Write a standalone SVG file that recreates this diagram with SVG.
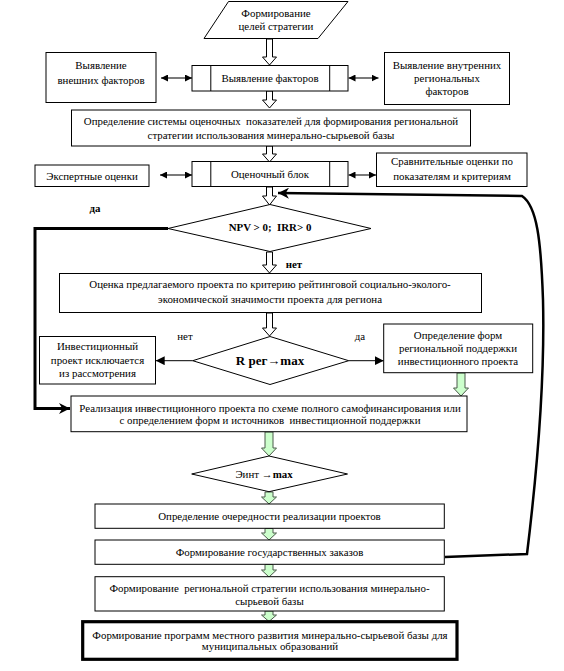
<svg xmlns="http://www.w3.org/2000/svg" width="564" height="671" viewBox="0 0 564 671">
<style>
.box{fill:#fff;stroke:#000;stroke-width:1}
.t{font-family:"Liberation Serif","Times New Roman",serif;font-size:10.9px;fill:#000;text-anchor:middle}
.b{font-weight:bold}
.ha{fill:#fff;stroke:#000;stroke-width:1}
.ga{fill:#ccffcc;stroke:#4a5a4a;stroke-width:1}
.dl{stroke:#333;stroke-width:1.3;fill:none}
.sl{stroke:#000;stroke-width:1;fill:none}
.thick{stroke:#000;stroke-width:3;fill:none}
</style>
<defs>
<marker id="ah" viewBox="0 0 10 10" refX="10" refY="5" markerWidth="7" markerHeight="7" markerUnits="userSpaceOnUse" orient="auto-start-reverse"><path d="M0,0 L10,5 L0,10 z" fill="#000"/></marker>
<marker id="ah2" viewBox="0 0 10 10" refX="10" refY="5" markerWidth="9" markerHeight="9" markerUnits="userSpaceOnUse" orient="auto"><path d="M0,0 L10,5 L0,10 z" fill="#000"/></marker>
<marker id="ah3" viewBox="0 0 10 10" refX="10" refY="5" markerWidth="11" markerHeight="11" markerUnits="userSpaceOnUse" orient="auto"><path d="M0,0 L10,5 L0,10 L3,5 z" fill="#000"/></marker>
</defs>
<rect width="564" height="671" fill="#fff"/>

<g id="connectors">
<polygon class="ha" points="266.5,39 272.5,39 272.5,57 276.5,57 269.5,65 262.5,57 266.5,57"/>
<polygon class="ha" points="266.5,91 272.5,91 272.5,100 276.5,100 269.5,108 262.5,100 266.5,100"/>
<polygon class="ha" points="266.5,146 272.5,146 272.5,154 276.5,154 269.5,162 262.5,154 266.5,154"/>
<polygon class="ha" points="266.5,187 272.5,187 272.5,196 276.5,196 269.5,205 262.5,196 266.5,196"/>
<polygon class="ha" points="266.5,252 272.5,252 272.5,265 276.5,265 269.5,273 262.5,265 266.5,265"/>
<polygon class="ha" points="266.5,313 272.5,313 272.5,328 276.5,328 269.5,336 262.5,328 266.5,328"/>
<line class="dl" x1="161" y1="78" x2="192" y2="78" marker-start="url(#ah)" marker-end="url(#ah)"/>
<line class="dl" x1="348.5" y1="78" x2="378.5" y2="78" marker-start="url(#ah)" marker-end="url(#ah)"/>
<line class="dl" x1="160" y1="175" x2="192" y2="175" marker-start="url(#ah)" marker-end="url(#ah)"/>
<line class="dl" x1="348.5" y1="175" x2="376" y2="175" marker-start="url(#ah)" marker-end="url(#ah)"/>
<path class="thick" d="M168,228.5 L35,228.5 L35,408.5 L70,408.5" marker-end="url(#ah3)"/>
<path d="M445,557 L527,554 C536,480 545,380 543,300 C541,240 537,206 522,196 L278,193" fill="none" stroke="#000" stroke-width="2.5" marker-end="url(#ah3)"/>
<line class="sl" x1="192.7" y1="360.7" x2="155.7" y2="360.7" marker-end="url(#ah2)"/>
<line class="sl" x1="348.7" y1="360.7" x2="383.7" y2="360.7" marker-end="url(#ah2)"/>
<polygon class="ga" points="457,373 465,373 465,388 468.5,388 461,396 453.5,388 457,388"/>
<polygon class="ga" points="265,432 273,432 273,448 276.5,448 269,456 261.5,448 265,448"/>
<polygon class="ga" points="265,492 273,492 273,497 276.5,497 269,504 261.5,497 265,497"/>
<polygon class="ga" points="265,528.5 273,528.5 273,533 276.5,533 269,540 261.5,533 265,533"/>
<polygon class="ga" points="265,564.5 273,564.5 273,570 276.5,570 269,577 261.5,570 265,570"/>
<polygon class="ga" points="265,611 273,611 273,615 276.5,615 269,621.5 261.5,615 265,615"/>
</g>

<g id="n-start">
<polygon class="box" points="228.5,1.5 348,1.5 318,38.5 204,38.5"/>
<text class="t" x="276" y="17">Формирование</text>
<text class="t" x="276" y="30">целей стратегии</text>
</g>
<g id="n-ext">
<rect class="box" x="46" y="52.5" width="110" height="50"/>
<text class="t" x="101" y="68.5">Выявление</text>
<text class="t" x="101" y="83.5">внешних факторов</text>
</g>
<g id="n-factors">
<rect class="box" x="192" y="65.5" width="156" height="25.5"/>
<line class="sl" x1="210.8" y1="65.5" x2="210.8" y2="91"/>
<line class="sl" x1="329.7" y1="65.5" x2="329.7" y2="91"/>
<text class="t" x="270" y="81.5">Выявление факторов</text>
</g>
<g id="n-int">
<rect class="box" x="384.5" y="52.5" width="125" height="52"/>
<text class="t" x="447" y="68.5">Выявление внутренних</text>
<text class="t" x="447" y="81.5">региональных</text>
<text class="t" x="447" y="95">факторов</text>
</g>
<g id="n-system">
<rect class="box" x="71.5" y="110" width="399" height="36"/>
<text class="t" x="271" y="124.5">Определение системы оценочных&#160; показателей для формирования региональной</text>
<text class="t" x="271" y="139">стратегии использования минерально-сырьевой базы</text>
</g>
<g id="n-expert">
<rect class="box" x="35" y="165" width="114" height="21.5"/>
<text class="t" x="92" y="179.5">Экспертные оценки</text>
</g>
<g id="n-evalblock">
<rect class="box" x="192" y="161.5" width="156" height="25"/>
<line class="sl" x1="210.8" y1="161.5" x2="210.8" y2="186.5"/>
<line class="sl" x1="329.7" y1="161.5" x2="329.7" y2="186.5"/>
<text class="t" x="270" y="178">Оценочный блок</text>
</g>
<g id="n-compare">
<rect class="box" x="376.5" y="153" width="150.5" height="33.5"/>
<text class="t" x="452" y="165">Сравнительные оценки по</text>
<text class="t" x="452" y="179.5">показателям и критериям</text>
</g>
<g id="n-npv">
<polygon class="box" points="270,204.5 371,228.5 270,251.5 168,228.5"/>
<text class="t b" x="270" y="231">NPV &gt; 0;&#160; IRR&gt; 0</text>
<text class="t b" x="95" y="211.5">да</text>
<text class="t b" x="294" y="267.5">нет</text>
</g>
<g id="n-rating">
<rect class="box" x="59.5" y="273.5" width="422" height="39"/>
<text class="t" x="270" y="288">Оценка предлагаемого проекта по критерию рейтинговой социально-эколого-</text>
<text class="t" x="270" y="303">экономической значимости проекта для региона</text>
</g>
<g id="n-rreg">
<polygon class="box" points="270,336.5 348.7,360.7 270,384.5 192.7,360.7"/>
<text class="t b" x="270" y="365" style="font-size:13px">R рег→max</text>
<text class="t" x="185" y="339.5">нет</text>
<text class="t" x="360" y="339.5">да</text>
</g>
<g id="n-exclude">
<rect class="box" x="39.5" y="336.5" width="116" height="47.5"/>
<text class="t" x="97.5" y="349.5">Инвестиционный</text>
<text class="t" x="97.5" y="364">проект исключается</text>
<text class="t" x="97.5" y="377">из рассмотрения</text>
</g>
<g id="n-support">
<rect class="box" x="383.7" y="324" width="149" height="48.7"/>
<text class="t" x="458" y="338.5">Определение форм</text>
<text class="t" x="458" y="352">региональной поддержки</text>
<text class="t" x="458" y="364.5">инвестиционного проекта</text>
</g>
<g id="n-realize">
<rect class="box" x="71" y="396" width="396" height="35.7"/>
<text class="t" x="270" y="412">Реализация инвестиционного проекта по схеме полного самофинансирования или</text>
<text class="t" x="270" y="424">с определением форм и источников&#160; инвестиционной поддержки</text>
</g>
<g id="n-eint">
<polygon class="box" points="269,456 347.5,474 269,491.7 191.7,474"/>
<text class="t" x="264" y="478">Эинт →<tspan class="b">max</tspan></text>
</g>
<g id="n-order">
<rect class="box" x="95" y="504" width="349.3" height="24.3"/>
<text class="t" x="269.5" y="519.5">Определение очередности реализации проектов</text>
</g>
<g id="n-orders">
<rect class="box" x="95" y="540" width="349.3" height="24.3"/>
<text class="t" x="269.5" y="556">Формирование государственных заказов</text>
</g>
<g id="n-strategy">
<rect class="box" x="95" y="576.7" width="349.3" height="34.3"/>
<text class="t" x="269.5" y="592">Формирование&#160; региональной стратегии использования минерально-</text>
<text class="t" x="269.5" y="604.5">сырьевой базы</text>
</g>
<g id="n-program">
<rect x="82.7" y="621.7" width="374.3" height="37.6" fill="#fff" stroke="#000" stroke-width="3.2"/>
<text class="t" x="270" y="638.5">Формирование программ местного развития минерально-сырьевой базы для</text>
<text class="t" x="270" y="650">муниципальных образований</text>
</g>
</svg>
